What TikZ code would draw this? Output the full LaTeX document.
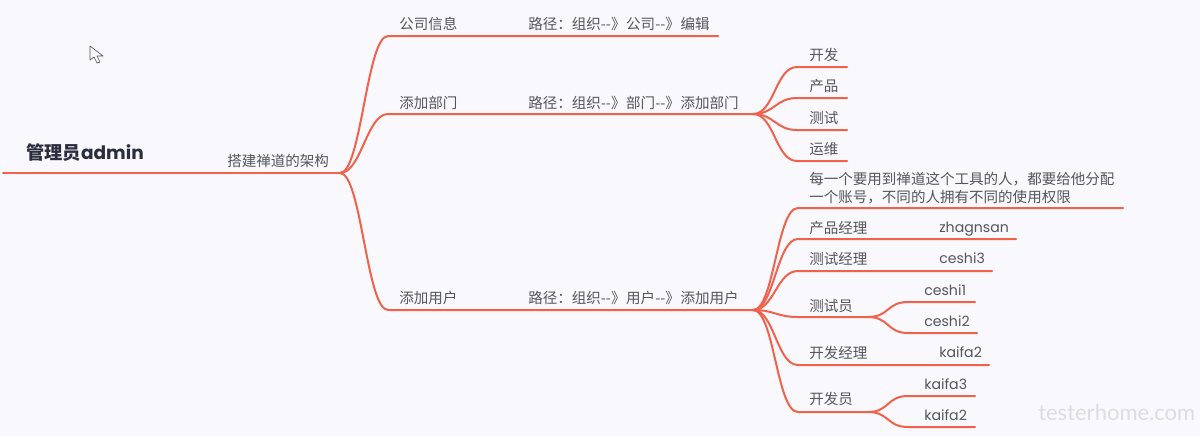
\documentclass[tikz,border=0pt]{standalone}
\usepackage{xcolor}
\usepackage{fontspec}
\setmainfont{Poppins}
\newfontfamily\cjk{Noto Sans CJK SC}
\newfontfamily\wmfont{Lato}
\definecolor{pagebg}{HTML}{F9F8FC}
\definecolor{branchred}{HTML}{F0624C}
\definecolor{labelgray}{HTML}{55565E}
\definecolor{rootdark}{HTML}{2A2E3F}
\definecolor{markgray}{HTML}{DDDCE0}
\newcommand{\pathsep}{{-}{-}》\kern0.5pt}
\tikzset{
  branch/.style={draw=branchred, line width=1.5pt, line cap=round},
  label/.style={font=\fontsize{10.9}{13}\selectfont\cjk},
  user/.style={anchor=base west, font=\fontsize{10.6}{13}\selectfont},
  fork/.style={out=0, in=180, distance=#1},
  fork/.default=16pt
}
\begin{document}
\begin{tikzpicture}[
    x=0.75pt, y=-0.75pt,
    every node/.style={anchor=west, inner sep=0pt, text=labelgray}
  ]
  \useasboundingbox[fill=pagebg] (0,0) rectangle (1200,436);

  % trunk
  \coordinate (root) at (3,173);
  \coordinate (hub) at (340,173);
  \node[font=\fontsize{13.7}{16}\selectfont\cjk\bfseries, text=rootdark] (rootlabel) at (26,153) {管理员{\normalfont\fontsize{13.9}{16}\selectfont\bfseries admin}};
  \node[label] (build) at (227,161) {搭建禅道的架构};
  \draw[branch] (root) -- (hub);

  % first level
  \coordinate (info) at (388,36);
  \coordinate (infoend) at (718,36);
  \coordinate (dept) at (388,114);
  \coordinate (depthub) at (753,114);
  \coordinate (user) at (388,310);
  \coordinate (userhub) at (753,310);
  \draw[branch] (hub) to[fork] (info) -- (infoend);
  \draw[branch] (hub) to[fork] (dept) -- (depthub);
  \draw[branch] (hub) to[fork] (user) -- (userhub);
  \node[label] (infolabel) at (399,24) {公司信息};
  \node[label] (infopath) at (528,24) {路径：组织\pathsep 公司\pathsep 编辑};
  \node[label] (deptlabel) at (399,103) {添加部门};
  \node[label] (deptpath) at (528,103) {路径：组织\pathsep 部门\pathsep 添加部门};
  \node[label] (userlabel) at (399,298) {添加用户};
  \node[label] (userpath) at (528,298) {路径：组织\pathsep 用户\pathsep 添加用户};

  % departments
  \foreach \name/\txt/\ypos in {dev/开发/67, prod/产品/98, qa/测试/130, ops/运维/161} {
    \coordinate (\name) at (797,\ypos);
    \coordinate (\name end) at (847,\ypos);
    \draw[branch] (depthub) to[fork] (\name) -- (\name end);
    \node[label] (\name label) at (809,\ypos-12) {\txt};
  }

  % users
  \coordinate (note) at (798,208);
  \coordinate (noteend) at (1123,208);
  \coordinate (pm) at (798,239);
  \coordinate (pmend) at (1016,239);
  \coordinate (tm) at (798,271);
  \coordinate (tmend) at (992,271);
  \coordinate (tester) at (798,317);
  \coordinate (testerhub) at (868,317);
  \coordinate (dm) at (798,365);
  \coordinate (dmend) at (989,365);
  \coordinate (coder) at (798,412);
  \coordinate (coderhub) at (868,412);
  \draw[branch] (userhub) to[fork] (note) -- (noteend);
  \draw[branch] (userhub) to[fork] (pm) -- (pmend);
  \draw[branch] (userhub) to[fork] (tm) -- (tmend);
  \draw[branch] (userhub) to[fork] (tester) -- (testerhub);
  \draw[branch] (userhub) to[fork] (dm) -- (dmend);
  \draw[branch] (userhub) to[fork] (coder) -- (coderhub);

  \coordinate (t1) at (908,302);
  \coordinate (t1end) at (975,302);
  \coordinate (t2) at (908,333);
  \coordinate (t2end) at (977,333);
  \coordinate (c1) at (908,396);
  \coordinate (c1end) at (975,396);
  \coordinate (c2) at (908,427);
  \coordinate (c2end) at (975,427);
  \draw[branch] (testerhub) to[fork] (t1) -- (t1end);
  \draw[branch] (testerhub) to[fork] (t2) -- (t2end);
  \draw[branch] (coderhub) to[fork] (c1) -- (c1end);
  \draw[branch] (coderhub) to[fork] (c2) -- (c2end);

  \node[label, align=left] (notelabel) at (809,188) {每一个要用到禅道这个工具的人，都要给他分配\\一个账号，不同的人拥有不同的使用权限};
  \node[label] (pmlabel) at (809,228) {产品经理};
  \node[user] (pmname) at (939,232) {zhagnsan};
  \node[label] (tmlabel) at (809,259) {测试经理};
  \node[user] (tmname) at (939,263) {ceshi3};
  \node[label] (testerlabel) at (809,306) {测试员};
  \node[user] (t1name) at (924,295) {ceshi1};
  \node[user] (t2name) at (924,326) {ceshi2};
  \node[label] (dmlabel) at (809,353) {开发经理};
  \node[user] (dmname) at (939,357) {kaifa2};
  \node[label] (coderlabel) at (809,399) {开发员};
  \node[user] (c1name) at (924,389) {kaifa3};
  \node[user] (c2name) at (924,420) {kaifa2};

  % pointer and watermark
  \draw[draw=labelgray, fill=pagebg, line width=0.5pt, line join=round]
    (90,46) -- (90,60) -- (94,57) -- (97,63) -- (100,62) -- (97,56) -- (103,56) -- cycle;
  \node[font=\fontsize{16.5}{20}\selectfont\wmfont, text=markgray] (watermark) at (1038,412) {testerhome.com};
\end{tikzpicture}
\end{document}
